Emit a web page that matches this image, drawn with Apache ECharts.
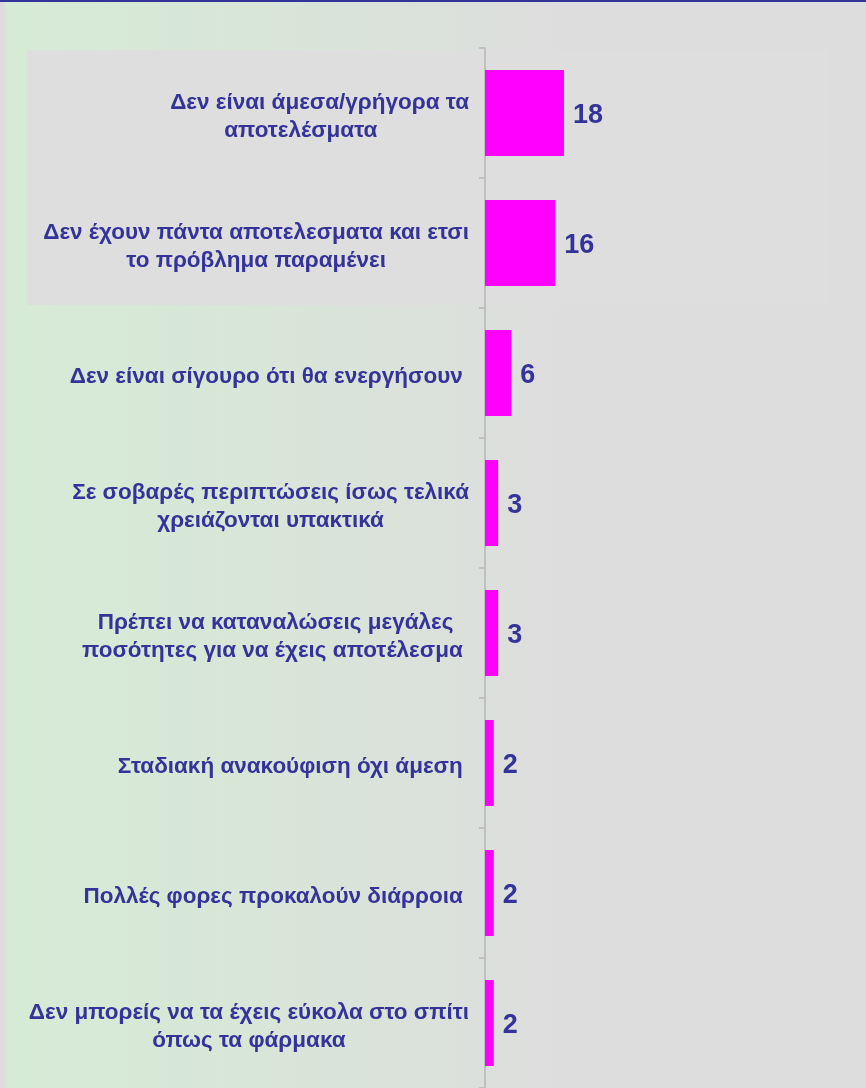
<!DOCTYPE html>
<html>
<head>
<meta charset="utf-8">
<script src="https://cdn.jsdelivr.net/npm/echarts@6/dist/echarts.min.js"></script>
<style>
  html, body { margin: 0; padding: 0; }
  #main { width: 866px; height: 1088px; }
</style>
</head>
<body>
<div id="main"></div>
<script>
// κατηγορίες (από πάνω προς τα κάτω)
var categories = [
    "Δεν είναι άμεσα/γρήγορα τα\nαποτελέσματα      ",
    "Δεν έχουν πάντα αποτελεσματα και ετσι\nτο πρόβλημα παραμένει",
    "Δεν είναι σίγουρο ότι θα ενεργήσουν ",
    "Σε σοβαρές περιπτώσεις ίσως τελικά\nχρειάζονται υπακτικά",
    "Πρέπει να καταναλώσεις μεγάλες\nποσότητες για να έχεις αποτέλεσμα ",
    "Σταδιακή ανακούφιση όχι άμεση ",
    "Πολλές φορες προκαλούν διάρροια ",
    "Δεν μπορείς να τα έχεις εύκολα στο σπίτι\nόπως τα φάρμακα"
];
var counts = [18, 16, 6, 3, 3, 2, 2, 2];

var textColor = "#333399";

var myChart = echarts.init(document.getElementById("main"));
var option = {
    backgroundColor: {
        type: "linear", x: 0, y: 0, x2: 1, y2: 0,
        colorStops: [
            { offset: 0, color: "#d6ebd6" },
            { offset: 0.3, color: "#d8e6d8" },
            { offset: 0.65, color: "#dddddd" },
            { offset: 1, color: "#dddddd" }
        ]
    },
    graphic: [
        { type: "rect", left: 0, top: 0, shape: { width: 5, height: 1088 }, style: { fill: "#dddddd" }, z: -10 },
        { type: "rect", left: 27, top: 50, shape: { width: 800, height: 255 }, style: { fill: "#dedede" }, z: -10 },
        { type: "rect", left: 0, top: 0, shape: { width: 866, height: 2 }, style: { fill: "#333399" }, z: 10 }
    ],
    grid: {
        left: 485,
        right: 30,
        top: 48,
        bottom: 0
    },
    xAxis: {
        type: "value",
        min: 0,
        max: 80,
        show: false
    },
    yAxis: {
        type: "category",
        inverse: true,
        data: categories,
        axisLine: { lineStyle: { color: "#c0c0c0", width: 2 } },
        axisTick: { show: true, length: 6, lineStyle: { color: "#c0c0c0", width: 2 } },
        axisLabel: {
            margin: 16,
            padding: [7, 0, 0, 0],
            formatter: function (v) {
                return v.split("\n").map(function (s) { return "{c|" + s + "}"; }).join("\n");
            },
            rich: {
                c: {
                    align: "center",
                    color: textColor,
                    fontFamily: "Liberation Sans",
                    fontWeight: "bold",
                    fontSize: 22.5,
                    lineHeight: 28
                }
            }
        }
    },
    series: [{
        type: "bar",
        data: counts,
        barWidth: 86,
        itemStyle: { color: "#ff00ff" },
        label: {
            show: true,
            position: "right",
            distance: 9,
            offset: [0, 3],
            color: textColor,
            fontFamily: "Liberation Sans",
            fontWeight: "bold",
            fontSize: 27
        }
    }]
};
myChart.setOption(option);
</script>
</body>
</html>
